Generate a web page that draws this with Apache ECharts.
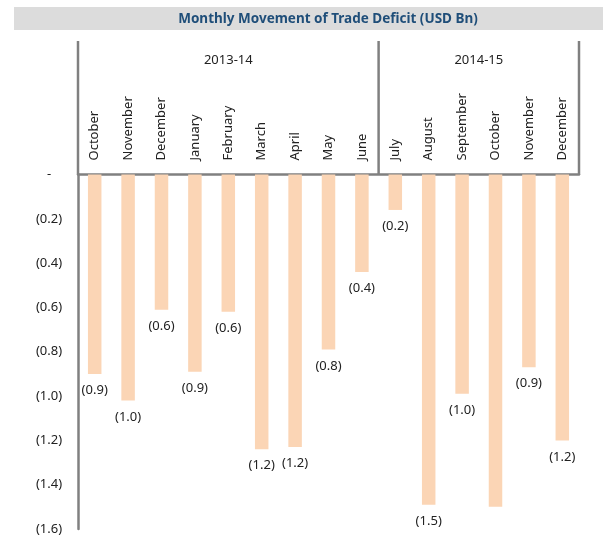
<!DOCTYPE html>
<html>
<head>
<meta charset="utf-8">
<script src="https://cdn.jsdelivr.net/npm/echarts@6/dist/echarts.min.js"></script>
<style>
    html, body { margin: 0; padding: 0; background: #fff; }
    #chart { width: 603px; height: 536px; }
</style>
</head>
<body>
<div id="chart"></div>
<script>
// 月份（两个财年）
const months = [
    'October', 'November', 'December', 'January', 'February', 'March', 'April', 'May', 'June',
    'July', 'August', 'September', 'October', 'November', 'December'
];
const fiscalYears = ['2013-14', '2014-15'];
const monthsPerYear = [9, 6];

// 贸易逆差月度变动 (USD Bn)
const deficit = [
    -0.90, -1.02, -0.61, -0.89, -0.62, -1.24, -1.23, -0.79, -0.44,
    -0.16, -1.49, -0.99, -1.50, -0.87, -1.20
];
// 原图中 2014-15 October 没有数据标签
const showLabel = [
    true, true, true, true, true, true, true, true, true,
    true, true, true, false, true, true
];

const yTicks = { min: -1.6, max: 0, interval: 0.2 };

const FONT = 'Noto Sans';
const FS = 13;
const LINE = '#808080';
const HEADER_TOP = 41;

const chart = echarts.init(document.getElementById('chart'));

function fmt(v) {
    if (Math.abs(v) < 1e-9) return '-';
    return '(' + Math.abs(v).toFixed(1) + ')';
}

const option = {
    animation: false,
    textStyle: { fontFamily: FONT },
    grid: { left: 78, right: 24, top: 174.5, bottom: 7 },
    xAxis: {
        type: 'category',
        position: 'top',
        data: months,
        axisLine: { lineStyle: { color: LINE, width: 2.5 } },
        axisTick: { show: false },
        axisLabel: { rotate: 90, margin: 14, fontSize: FS, color: '#222', fontFamily: FONT, interval: 0 }
    },
    yAxis: {
        type: 'value',
        min: yTicks.min,
        max: yTicks.max,
        interval: yTicks.interval,
        splitLine: { show: false },
        axisTick: { show: false },
        axisLine: { show: true, lineStyle: { color: LINE, width: 2.5 } },
        axisLabel: {
            formatter: fmt,
            align: 'center',
            margin: 29,
            fontSize: FS,
            color: '#222',
            fontFamily: FONT
        }
    },
    series: [{
        type: 'bar',
        barWidth: 13.5,
        itemStyle: { color: '#fbd5b5' },
        label: {
            show: true,
            position: 'bottom',
            distance: 10,
            fontSize: FS,
            color: '#222',
            fontFamily: FONT,
            formatter: p => fmt(p.value)
        },
        data: deficit.map((v, i) => ({ value: v, label: { show: showLabel[i] } }))
    }]
};

chart.setOption(option);

// 标题栏 + 财年表头框（位置由坐标轴换算）
function drawHeader() {
    const half = chart.convertToPixel({ xAxisIndex: 0 }, 1) - chart.convertToPixel({ xAxisIndex: 0 }, 0);
    const zeroY = chart.convertToPixel({ yAxisIndex: 0 }, 0);
    const elements = [
        {
            type: 'rect',
            shape: { x: 14, y: 7, width: 589, height: 23 },
            style: { fill: '#dcdcdc' },
            silent: true
        },
        {
            type: 'text',
            x: 328, y: 19,
            style: {
                text: 'Monthly Movement of Trade Deficit (USD Bn)',
                fill: '#1f4e79',
                font: 'bold 13.5px "' + FONT + '"',
                align: 'center',
                verticalAlign: 'middle'
            },
            silent: true
        }
    ];
    let start = 0;
    const edges = [chart.convertToPixel({ xAxisIndex: 0 }, 0) - half / 2];
    monthsPerYear.forEach((n, k) => {
        const x0 = chart.convertToPixel({ xAxisIndex: 0 }, start) - half / 2;
        const x1 = chart.convertToPixel({ xAxisIndex: 0 }, start + n - 1) + half / 2;
        edges.push(x1);
        elements.push({
            type: 'text',
            x: (x0 + x1) / 2, y: 60,
            style: {
                text: fiscalYears[k],
                fill: '#222',
                font: FS + 'px "' + FONT + '"',
                align: 'center',
                verticalAlign: 'middle'
            },
            silent: true
        });
        start += n;
    });
    edges.forEach(x => {
        elements.push({
            type: 'line',
            shape: { x1: x, y1: HEADER_TOP, x2: x, y2: zeroY },
            style: { stroke: LINE, lineWidth: 2.5 },
            silent: true
        });
    });
    chart.setOption({ graphic: { elements } });
}

drawHeader();
</script>
</body>
</html>
